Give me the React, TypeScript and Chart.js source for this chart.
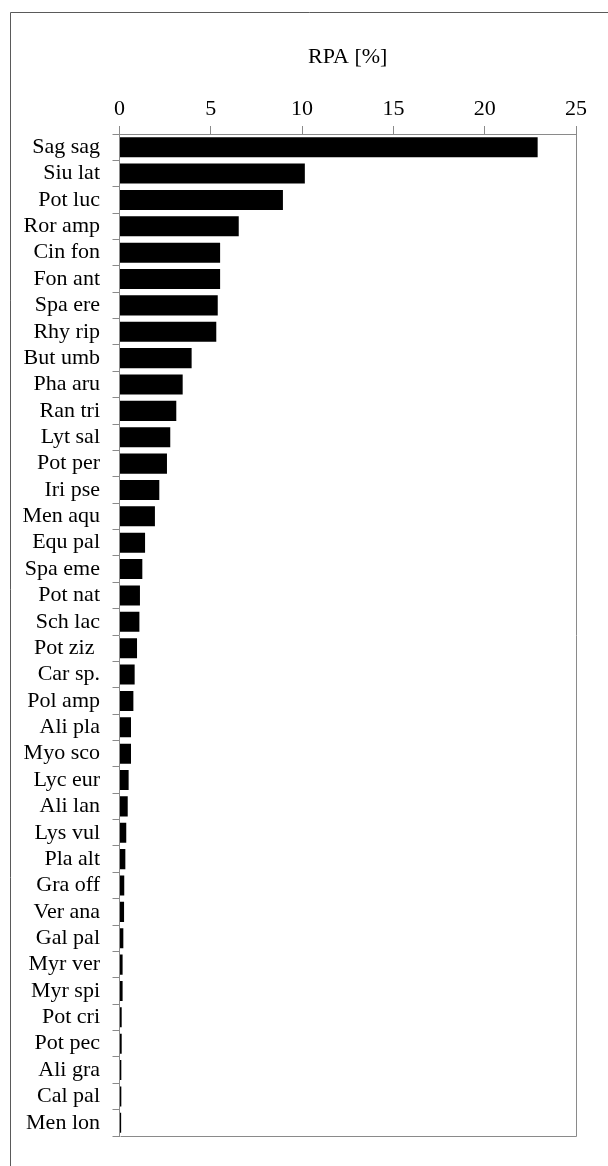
import React, { useEffect, useRef } from "react";
import { Chart, registerables } from "chart.js";

Chart.register(...registerables);

const species: string[] = [
  "Sag sag", "Siu lat", "Pot luc", "Ror amp", "Cin fon", "Fon ant", "Spa ere", "Rhy rip",
  "But umb", "Pha aru", "Ran tri", "Lyt sal", "Pot per", "Iri pse", "Men aqu", "Equ pal",
  "Spa eme", "Pot nat", "Sch lac", "Pot ziz ", "Car sp.", "Pol amp", "Ali pla", "Myo sco",
  "Lyc eur", "Ali lan", "Lys vul", "Pla alt", "Gra off", "Ver ana", "Gal pal", "Myr ver",
  "Myr spi", "Pot cri", "Pot pec", "Ali gra", "Cal pal", "Men lon",
];

const rpaValues: number[] = [
  22.9, 10.15, 8.95, 6.53, 5.51, 5.51, 5.38, 5.3,
  3.95, 3.46, 3.11, 2.78, 2.6, 2.18, 1.94, 1.4,
  1.25, 1.12, 1.09, 0.96, 0.83, 0.76, 0.63, 0.63,
  0.5, 0.45, 0.37, 0.32, 0.26, 0.25, 0.21, 0.17,
  0.17, 0.12, 0.12, 0.1, 0.1, 0.09,
];

const xTicks: number[] = [0, 5, 10, 15, 20, 25];
const axisTitle = "RPA [%]";

const FONT = "'Liberation Serif', 'Times New Roman', serif";

const framePlugin = {
  id: "frameAndBox",
  beforeDraw(chart: any) {
    const ctx = chart.ctx;
    ctx.save();
    ctx.fillStyle = "#ffffff";
    ctx.fillRect(0, 0, chart.width, chart.height);
    ctx.strokeStyle = "#5a5a5a";
    ctx.lineWidth = 1;
    ctx.beginPath();
    ctx.moveTo(10.5, chart.height);
    ctx.lineTo(10.5, 12.5);
    ctx.lineTo(chart.width, 12.5);
    ctx.stroke();
    ctx.restore();
  },
  afterDraw(chart: any) {
    const ctx = chart.ctx;
    const a = chart.chartArea;
    ctx.save();
    ctx.strokeStyle = "#8a8a8a";
    ctx.lineWidth = 1;
    ctx.beginPath();
    ctx.moveTo(Math.round(a.left) + 0.5, Math.round(a.top) + 0.5);
    ctx.lineTo(Math.round(a.right) + 0.5, Math.round(a.top) + 0.5);
    ctx.lineTo(Math.round(a.right) + 0.5, Math.round(a.bottom) + 0.5);
    ctx.lineTo(Math.round(a.left) + 0.5, Math.round(a.bottom) + 0.5);
    ctx.stroke();
    ctx.restore();
  },
};

export default function App() {
  const canvasRef = useRef<HTMLCanvasElement | null>(null);

  useEffect(() => {
    const canvas = canvasRef.current;
    if (!canvas) return;
    const chart = new Chart(canvas, {
      type: "bar",
      data: {
        labels: species,
        datasets: [
          {
            data: rpaValues,
            backgroundColor: "#000000",
            borderWidth: 0,
            barPercentage: 0.76,
            categoryPercentage: 1,
          },
        ],
      },
      options: {
        indexAxis: "y",
        animation: false,
        responsive: false,
        maintainAspectRatio: false,
        devicePixelRatio: 1,
        layout: { padding: { left: 0, top: 0, right: 32, bottom: 30 } },
        plugins: {
          legend: { display: false },
          tooltip: { enabled: false },
        },
        scales: {
          x: {
            position: "top",
            min: 0,
            max: 25,
            afterBuildTicks(scale: any) {
              scale.ticks = xTicks.map((v) => ({ value: v }));
            },
            afterFit(scale: any) {
              scale.height = 134;
            },
            grid: {
              drawOnChartArea: false,
              drawTicks: true,
              tickLength: 8,
              color: "#8a8a8a",
            },
            border: { display: true, color: "#8a8a8a" },
            ticks: {
              padding: 4,
              color: "#000000",
              font: { family: FONT, size: 22 },
            },
            title: {
              display: true,
              text: axisTitle,
              color: "#000000",
              font: { family: FONT, size: 22 },
              padding: { top: 44, bottom: 0 },
            },
          },
          y: {
            afterFit(scale: any) {
              scale.width = 119.5;
            },
            grid: {
              drawOnChartArea: false,
              drawTicks: true,
              tickLength: 7,
              offset: true,
              color: "#8a8a8a",
            },
            border: { display: true, color: "#8a8a8a" },
            ticks: {
              padding: 12.5,
              color: "#000000",
              autoSkip: false,
              font: { family: FONT, size: 22 },
            },
          },
        },
      },
      plugins: [framePlugin],
    });
    return () => chart.destroy();
  }, []);

  return (
    <div style={{ position: "absolute", left: 0, top: 0, width: 608, height: 1166 }}>
      <canvas ref={canvasRef} width={608} height={1166} style={{ width: 608, height: 1166, display: "block" }} />
    </div>
  );
}
